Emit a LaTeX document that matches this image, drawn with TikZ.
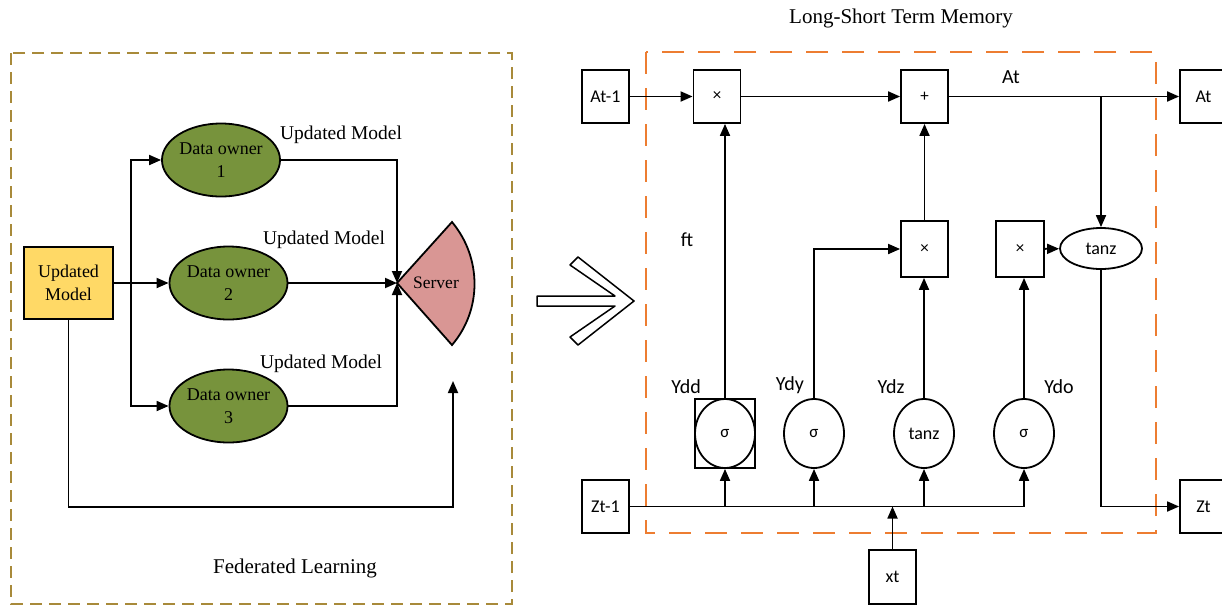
\documentclass[tikz,border=0pt]{standalone}
\usepackage{fontspec}
\setmainfont{Liberation Serif}
\newfontfamily\calfont{Carlito}
\usetikzlibrary{arrows.meta,shapes.geometric}
\definecolor{umyellow}{RGB}{255,217,102}
\definecolor{ownergreen}{RGB}{119,147,60}
\definecolor{serverred}{RGB}{217,150,148}
\definecolor{fldash}{RGB}{168,138,58}
\definecolor{lstmorange}{RGB}{237,125,49}
\tikzset{
  arr/.style={-{Triangle[length=12pt,width=10pt]}},
  owner/.style={ellipse,draw,fill=ownergreen,minimum width=117pt,minimum height=73pt,inner sep=0pt,align=center,font=\fontsize{18}{23}\selectfont},
  serif lbl/.style={font=\fontsize{19.5}{23}\selectfont,inner sep=0pt},
  lbox/.style={draw,minimum width=47pt,minimum height=53pt,inner sep=0pt,font=\calfont\fontsize{18}{22}\selectfont},
  opbox/.style={draw,minimum width=47pt,minimum height=53pt,inner sep=0pt,font=\calfont\fontsize{17}{19}\selectfont},
  gate/.style={ellipse,draw,minimum width=60pt,minimum height=69pt,inner sep=0pt,font=\calfont\fontsize{17}{19}\selectfont},
  sans lbl/.style={font=\calfont\fontsize{20}{24}\selectfont,inner sep=0pt},
}
\begin{document}
\begin{tikzpicture}[x=1pt,y=-1pt,line width=1.8pt,line join=miter]
\useasboundingbox (0,0) rectangle (1222,606);
\clip (0,0) rectangle (1222,606);
% ---------- Federated learning ----------
\draw[fldash,line width=2pt,dash pattern=on 12pt off 7pt] (11,53) rectangle (512,604);
\node[draw,fill=umyellow,minimum width=89pt,minimum height=72pt,inner sep=0pt,align=center,font=\fontsize{18}{23}\selectfont] (um) at (68.5,283) {Updated\\Model};
\node[owner] (do1) at (221,160) {Data owner\\1};
\node[owner] (do2) at (228.5,283) {Data owner\\2};
\node[owner] (do3) at (228.5,406) {Data owner\\3};
\coordinate (srv) at (397,283);
\draw[fill=serverred] (srv) -- (452,222) .. controls (482,258) and (482,310) .. (452,345) -- cycle;
\node[font=\fontsize{17.5}{20}\selectfont,inner sep=0pt] (srvtxt) at (436,283) {Server};
\coordinate (split) at (131,283);
\draw[arr] (um.east) -- (do2.west);
\draw[arr] (split) |- (do1.west);
\draw[arr] (split) |- (do3.west);
\draw[arr] (do1.east) -| (srv);
\draw[arr] (do2.east) -- (srv);
\draw[arr] (do3.east) -| (srv);
\coordinate (fbc) at (453,507);
\coordinate (fb) at (453,381);
\draw[arr] (um.south) |- (fbc) -- (fb);
\node[serif lbl] (ul1) at (341,135) {Updated Model};
\node[serif lbl] (ul2) at (324,240) {Updated Model};
\node[serif lbl] (ul3) at (321,364) {Updated Model};
\node[font=\fontsize{21}{25}\selectfont,inner sep=0pt] (fltitle) at (295,568) {Federated Learning};
% ---------- hollow arrow ----------
\draw[line width=1.5pt,line join=round] (537,296) -- (615,296) -- (570,265) -- (578,257) -- (634,301) -- (578,345) -- (570,337) -- (615,306) -- (537,306) -- cycle;
% ---------- LSTM ----------
\node[font=\fontsize{21}{25}\selectfont,inner sep=0pt] (lstmtitle) at (901,18) {Long-Short Term Memory};
\draw[lstmorange,line width=2pt,dash pattern=on 22pt off 14pt] (646,52) rectangle (1156,533);
\node[lbox] (atm1) at (605.5,96.5) {At-1};
\node[opbox] (m1) at (717,96.5) {×};
\node[opbox] (plus) at (924.5,96.5) {+};
\node[lbox] (at) at (1203.5,96.5) {At};
\node[opbox,minimum height=56pt] (m2) at (924.5,249) {×};
\node[opbox,minimum height=56pt,minimum width=48pt] (m3) at (1020,249) {×};
\node[ellipse,draw,minimum width=82pt,minimum height=41pt,inner sep=0pt,font=\calfont\fontsize{18}{22}\selectfont] (tz) at (1101,248.5) {tanz};
\node[draw,minimum width=60pt,minimum height=69pt,inner sep=0pt] (g1box) at (725,433.5) {};
\node[gate] (g1) at (725,433.5) {σ};
\node[gate] (g2) at (814,433.5) {σ};
\node[gate,font=\calfont\fontsize{18}{22}\selectfont] (g3) at (924,433.5) {tanz};
\node[gate] (g4) at (1024,433.5) {σ};
\node[lbox] (ztm1) at (605.5,506.5) {Zt-1};
\node[lbox] (zt) at (1203.5,506.5) {Zt};
\node[lbox,minimum height=54pt] (xt) at (892.5,577) {xt};
\draw[arr] (atm1) -- (m1);
\draw[arr] (m1) -- (plus);
\draw[arr] (plus) -- (at);
\coordinate (tap) at (1101,96.5);
\draw[arr] (tap) -- (tz.north);
\draw[arr] (m3) -- (tz);
\draw[arr] (m2) -- (plus);
\draw[arr] (g1.north) -- (g1.north |- m1.south);
\draw[arr] (g2.north) |- (m2.west);
\draw[arr] (g3.north) -- (g3.north |- m2.south);
\draw[arr] (g4.north) -- (g4.north |- m3.south);
\coordinate (busend) at (1024,506.5);
\draw (ztm1.east) -- (busend);
\draw[arr] (g1.south |- ztm1.east) -- (g1.south);
\draw[arr] (g2.south |- ztm1.east) -- (g2.south);
\draw[arr] (g3.south |- ztm1.east) -- (g3.south);
\draw[arr] (busend) -- (g4.south);
\draw[arr] (xt.north) -- (xt.north |- ztm1.east);
\draw[arr] (tz.south) |- (zt.west);
\node[sans lbl] (ftl) at (687,240) {ft};
\node[sans lbl] (atl) at (1011,77) {At};
\node[sans lbl] (yddl) at (686,387) {Ydd};
\node[sans lbl] (ydyl) at (790,385) {Ydy};
\node[sans lbl] (ydzl) at (891,387) {Ydz};
\node[sans lbl] (ydol) at (1059,387) {Ydo};
\end{tikzpicture}
\end{document}
